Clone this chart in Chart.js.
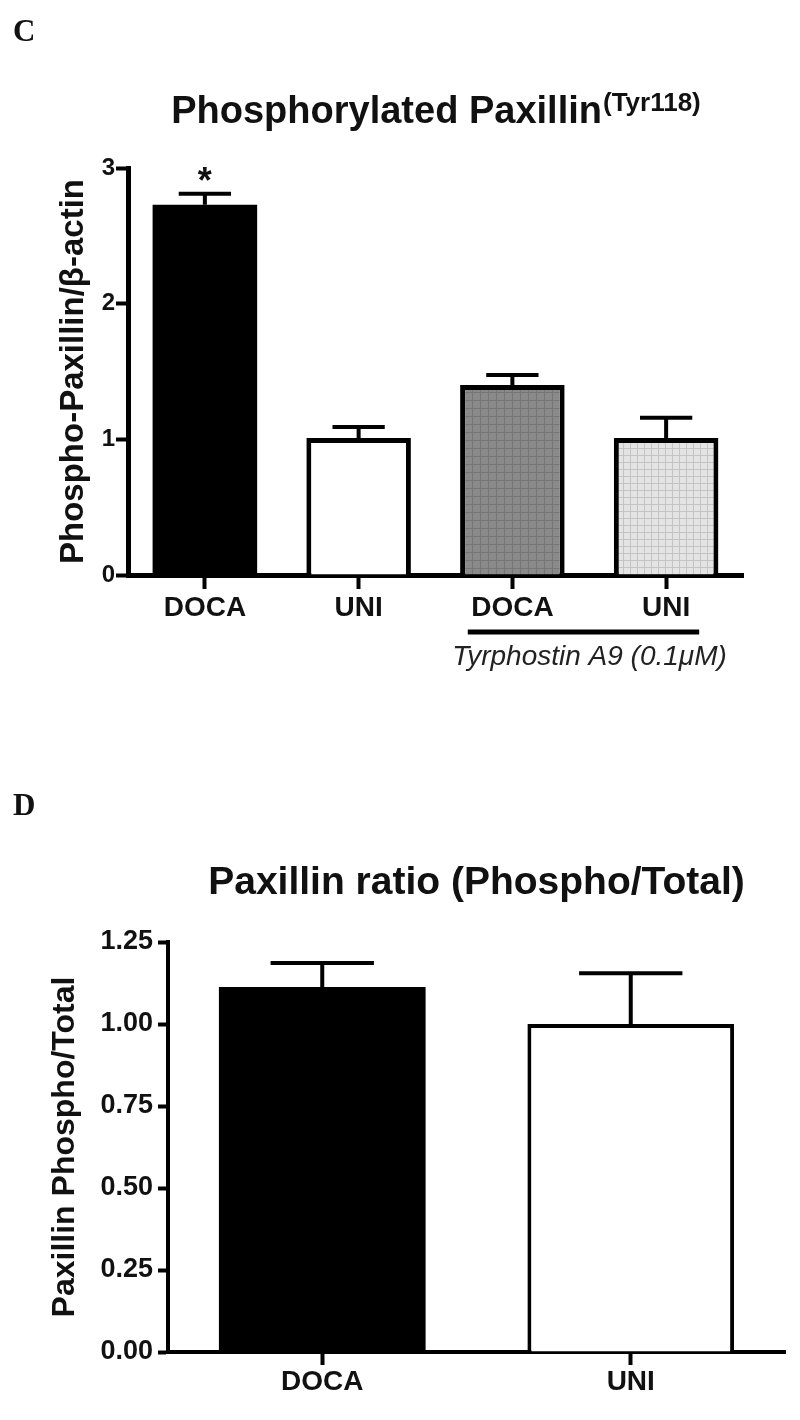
<!DOCTYPE html>
<html>
<head>
<meta charset="utf-8">
<script src="https://cdn.jsdelivr.net/npm/chart.js@4/dist/chart.umd.min.js"></script>
<style>
  body { margin: 0; background: #fff; }
  .panel { position: relative; width: 800px; }
</style>
</head>
<body>
<div class="panel" style="height:720px"><canvas id="chartC"></canvas></div>
<div class="panel" style="height:700px"><canvas id="chartD"></canvas></div>
<script>
// Panel C data
const catC = ['DOCA', 'UNI', 'DOCA', 'UNI'];
const meanC = [2.73, 1.01, 1.40, 1.01];
const semC = [0.08, 0.08, 0.075, 0.15];
const marksC = ['*', '', '', ''];
const yTicksC = [0, 1, 2, 3];
const groupC = { label: 'Tyrphostin A9 (0.1μM)', from: 2, to: 3 };

// Panel D data
const catD = ['DOCA', 'UNI'];
const meanD = [1.113, 1.0];
const semD = [0.073, 0.155];
const yTicksD = [0, 0.25, 0.5, 0.75, 1.0, 1.25];

const FONT = "'Liberation Sans', Arial, sans-serif";
const INK = '#111';

function gridPattern(base, line, step) {
    const c = document.createElement('canvas');
    c.width = c.height = step;
    const g = c.getContext('2d');
    g.fillStyle = base;
    g.fillRect(0, 0, step, step);
    g.fillStyle = line;
    g.fillRect(0, 0, step, 1);
    g.fillRect(0, 0, 1, step);
    return g.createPattern(c, 'repeat');
}

// error bars + marks above bars
const errorBars = {
    id: 'errorBars',
    afterDatasetsDraw(chart, args, opts) {
        const {ctx} = chart;
        const y = chart.scales.y;
        const vals = chart.data.datasets[0].data;
        ctx.save();
        ctx.strokeStyle = '#000';
        ctx.lineWidth = opts.lineWidth;
        chart.getDatasetMeta(0).data.forEach((bar, i) => {
            const top = y.getPixelForValue(vals[i] + opts.errors[i]);
            const half = bar.width / 4;
            ctx.beginPath();
            ctx.moveTo(bar.x, bar.y);
            ctx.lineTo(bar.x, top);
            ctx.moveTo(bar.x - half, top);
            ctx.lineTo(bar.x + half, top);
            ctx.stroke();
            if (opts.marks && opts.marks[i]) {
                ctx.fillStyle = INK;
                ctx.font = 'bold 36px ' + FONT;
                ctx.textAlign = 'center';
                ctx.textBaseline = 'alphabetic';
                ctx.fillText(opts.marks[i], bar.x, top - 1);
            }
        });
        ctx.restore();
    }
};

// panel letter, title with optional superscript, group underline
const panelText = {
    id: 'panelText',
    afterDraw(chart, args, o) {
        const {ctx, chartArea} = chart;
        ctx.save();
        ctx.fillStyle = INK;
        ctx.textBaseline = 'middle';
        ctx.textAlign = 'left';
        ctx.font = "bold 31px 'Liberation Serif', 'Times New Roman', serif";
        ctx.fillText(o.letter, 13, o.letterY);

        ctx.textBaseline = 'alphabetic';
        ctx.font = 'bold ' + o.titleSize + 'px ' + FONT;
        const w1 = ctx.measureText(o.title).width;
        let w2 = 0;
        if (o.sup) {
            ctx.font = 'bold ' + o.supSize + 'px ' + FONT;
            w2 = ctx.measureText(o.sup).width;
        }
        const x0 = (chartArea.left + chartArea.right) / 2 - (w1 + w2) / 2;
        ctx.font = 'bold ' + o.titleSize + 'px ' + FONT;
        ctx.fillText(o.title, x0, o.titleY);
        if (o.sup) {
            ctx.font = 'bold ' + o.supSize + 'px ' + FONT;
            ctx.fillText(o.sup, x0 + w1 + 1, o.titleY - o.supRise);
        }

        if (o.group) {
            const xs = chart.scales.x;
            const step = xs.getPixelForValue(1) - xs.getPixelForValue(0);
            const x1 = xs.getPixelForValue(o.group.from) - 0.29 * step;
            const x2 = xs.getPixelForValue(o.group.to) + 0.215 * step;
            const ly = chartArea.bottom + 57;
            ctx.strokeStyle = '#000';
            ctx.lineWidth = 5;
            ctx.beginPath();
            ctx.moveTo(x1, ly);
            ctx.lineTo(x2, ly);
            ctx.stroke();
            ctx.fillStyle = '#222';
            ctx.font = 'italic 28px ' + FONT;
            ctx.textAlign = 'center';
            ctx.textBaseline = 'middle';
            ctx.fillText(o.group.label, (x1 + x2) / 2 + 6, ly + 25);
        }
        ctx.restore();
    }
};

function axes(cfg) {
    return {
        x: {
            afterFit: s => { s.height = cfg.xHeight; },
            grid: { display: true, drawOnChartArea: false, offset: false, color: '#000', tickLength: cfg.xTick, tickWidth: 4 },
            border: { display: true, color: '#000', width: cfg.border },
            ticks: { color: INK, padding: cfg.xPad, font: { family: FONT, size: 28, weight: 'bold' } }
        },
        y: {
            min: 0, max: cfg.yTicks[cfg.yTicks.length - 1],
            afterFit: s => { s.width = cfg.yWidth; },
            afterBuildTicks: s => { s.ticks = cfg.yTicks.map(v => ({ value: v })); },
            grid: { display: true, drawOnChartArea: false, color: '#000', tickLength: cfg.yTick, tickWidth: 4 },
            border: { display: true, color: '#000', width: cfg.border },
            ticks: {
                color: INK, padding: cfg.yPad,
                font: { family: FONT, size: cfg.yFont, weight: 'bold' },
                callback: v => cfg.fmt(v)
            },
            title: {
                display: true, text: cfg.yTitle, color: INK,
                font: { family: FONT, size: cfg.titleSize, weight: 'bold' },
                padding: { top: cfg.titlePad, bottom: 0 }
            }
        }
    };
}

// 1. PANEL C
const ctxC = document.getElementById('chartC').getContext('2d');
new Chart(ctxC, {
    type: 'bar',
    plugins: [errorBars, panelText],
    data: {
        labels: catC,
        datasets: [{
            data: meanC,
            backgroundColor: ['#000', '#fff', gridPattern('#8a8a8a', '#767676', 8), gridPattern('#e4e4e4', '#c4c4c4', 7)],
            borderColor: '#000',
            borderWidth: [0, 5, 5, 5],
            borderSkipped: 'start',
            barPercentage: 0.68,
            categoryPercentage: 1
        }]
    },
    options: {
        responsive: true,
        maintainAspectRatio: false,
        animation: false,
        layout: { padding: { left: 0, right: 57, top: 168, bottom: 0 } },
        scales: axes({
            xHeight: 145, xTick: 14, xPad: 2, border: 5,
            yWidth: 128, yTick: 12, yPad: 1, yFont: 24, yTicks: yTicksC,
            fmt: v => String(v), yTitle: 'Phospho-Paxillin/β-actin', titleSize: 33, titlePad: 54
        }),
        plugins: {
            legend: { display: false },
            tooltip: { enabled: false },
            errorBars: { errors: semC, marks: marksC, lineWidth: 4 },
            panelText: {
                letter: 'C', letterY: 33,
                title: 'Phosphorylated Paxillin', titleSize: 38, titleY: 123,
                sup: '(Tyr118)', supSize: 26, supRise: 12,
                group: groupC
            }
        }
    }
});

// 2. PANEL D
const ctxD = document.getElementById('chartD').getContext('2d');
new Chart(ctxD, {
    type: 'bar',
    plugins: [errorBars, panelText],
    data: {
        labels: catD,
        datasets: [{
            data: meanD,
            backgroundColor: ['#000', '#fff'],
            borderColor: '#000',
            borderWidth: [0, 4],
            borderSkipped: 'start',
            barPercentage: 0.67,
            categoryPercentage: 1
        }]
    },
    options: {
        responsive: true,
        maintainAspectRatio: false,
        animation: false,
        layout: { padding: { left: 0, right: 15, top: 222, bottom: 0 } },
        scales: axes({
            xHeight: 68, xTick: 13, xPad: 0, border: 4,
            yWidth: 168, yTick: 10, yPad: 5, yFont: 27, yTicks: yTicksD,
            fmt: v => v.toFixed(2), yTitle: 'Paxillin Phospho/Total', titleSize: 32, titlePad: 46
        }),
        plugins: {
            legend: { display: false },
            tooltip: { enabled: false },
            errorBars: { errors: semD, lineWidth: 4 },
            panelText: {
                letter: 'D', letterY: 87,
                title: 'Paxillin ratio (Phospho/Total)', titleSize: 39, titleY: 174
            }
        }
    }
});
</script>
</body>
</html>
